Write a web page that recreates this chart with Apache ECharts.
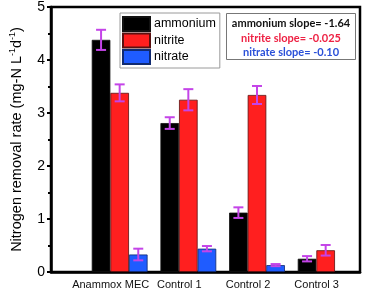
<!DOCTYPE html>
<html><head><meta charset="utf-8">
<script src="https://cdn.jsdelivr.net/npm/echarts@6/dist/echarts.min.js"></script>
<style>html,body{margin:0;padding:0;background:#fff}#c{width:365px;height:291px}</style>
</head><body><div id="c"></div>
<script>
var categories = ['Anammox MEC', 'Control 1', 'Control 2', 'Control 3'];
var seriesNames = ['ammonium', 'nitrite', 'nitrate'];
var ammonium = [4.38, 2.81, 1.12, 0.25];
var ammoniumErr = [0.19, 0.11, 0.10, 0.05];
var nitrite = [3.38, 3.25, 3.34, 0.41];
var nitriteErr = [0.16, 0.20, 0.17, 0.10];
var nitrate = [0.33, 0.44, 0.13, 0];
var nitrateErr = [0.11, 0.05, 0.02, 0];
var yTicks = [0, 1, 2, 3, 4, 5];
var slopeTexts = ['ammonium slope= -1.64', 'nitrite slope= -0.025', 'nitrate slope= -0.10'];

var colors = ['#000000', '#ff1f1f', '#1f5cff'];
var borders = ['#111111', '#5a1010', '#102a70'];
var errColor = '#c444e8';
var BW = 18.6;

// slot axis: positions 0..4.5 in half steps, categories at 1..4
var slots = [];
for (var s = 0; s < 10; s++) slots.push('');
categories.forEach(function (c, i) { slots[2 * (i + 1)] = c; });
function toSlots(arr) {
  var out = slots.map(function () { return null; });
  arr.forEach(function (v, i) { out[2 * (i + 1)] = v > 0 ? v : null; });
  return out;
}
var values = [ammonium, nitrite, nitrate];
var errs = [ammoniumErr, nitriteErr, nitrateErr];

var series = [];
values.forEach(function (vals, k) {
  series.push({
    name: seriesNames[k], type: 'bar', data: toSlots(vals),
    barWidth: BW, barGap: '0%',
    itemStyle: { color: colors[k], borderColor: borders[k], borderWidth: 0.8 },
    silent: true
  });
});
var errData = [];
values.forEach(function (vals, k) {
  vals.forEach(function (v, i) {
    if (errs[k][i] > 0) errData.push([2 * (i + 1), v - errs[k][i], v + errs[k][i], k]);
  });
});
series.push({
  type: 'custom', silent: true, z: 10,
  renderItem: function (params, api) {
    var k = api.value(3);
    var lo = api.coord([api.value(0), api.value(1)]);
    var hi = api.coord([api.value(0), api.value(2)]);
    var x = lo[0] + (k - 1) * BW;
    var cw = 5;
    var st = { stroke: errColor, lineWidth: 2 };
    return { type: 'group', children: [
      { type: 'line', shape: { x1: x, y1: lo[1], x2: x, y2: hi[1] }, style: st },
      { type: 'line', shape: { x1: x - cw, y1: lo[1], x2: x + cw, y2: lo[1] }, style: st },
      { type: 'line', shape: { x1: x - cw, y1: hi[1], x2: x + cw, y2: hi[1] }, style: st }
    ] };
  },
  encode: { x: 0, y: [1, 2] },
  data: errData
});

var chart = echarts.init(document.getElementById('c'));
chart.setOption({
  animation: false,
  grid: { left: 48, right: 5, top: 7, bottom: 19, show: true, borderColor: '#000', borderWidth: 2.5, backgroundColor: 'transparent' },
  legend: {
    orient: 'vertical', left: 120, top: 13,
    data: seriesNames, icon: 'rect', itemWidth: 27, itemHeight: 14, itemGap: 0.5,
    padding: [3, 4, 3, 2], borderColor: '#9a9a9a', borderWidth: 1,
    textStyle: { fontFamily: 'Liberation Sans', fontSize: 12.5, color: '#000', padding: [0, 0, 0, -1] },
    selectedMode: false
  },
  xAxis: {
    type: 'category', data: slots, boundaryGap: false,
    axisLine: { lineStyle: { color: '#000', width: 2.5 } },
    axisTick: { show: false },
    axisLabel: { interval: 0, margin: 7, padding: [0, 18, 0, 0], fontFamily: 'Liberation Sans', fontSize: 11, color: '#111' },
    splitLine: { show: false }
  },
  yAxis: {
    type: 'value', min: yTicks[0], max: yTicks[yTicks.length - 1], interval: 1,
    name: 'Nitrogen removal rate (mg-N L{s|-1}d{s|-1})',
    nameLocation: 'middle', nameGap: 26,
    nameTextStyle: { fontFamily: 'Liberation Sans', fontSize: 14.5, color: '#000',
      rich: { s: { fontFamily: 'Liberation Sans', fontSize: 9, color: '#000', padding: [0, 0, 8, 0] } } },
    axisLine: { show: true, lineStyle: { color: '#000', width: 2.5 } },
    axisTick: { show: true, inside: false, length: 4, lineStyle: { color: '#000', width: 2 } },
    minorTick: { show: true, splitNumber: 2, length: 3, lineStyle: { color: '#000', width: 2 } },
    axisLabel: { margin: 6, fontFamily: 'Liberation Sans', fontSize: 14, color: '#000' },
    splitLine: { show: false }
  },
  graphic: [{
    type: 'group', left: 226, top: 13, children: [
      { type: 'rect', shape: { x: 0, y: 0, width: 129, height: 46 }, style: { fill: '#fff', stroke: '#777', lineWidth: 1 } },
      { type: 'text', x: 64.5, y: 10, style: { text: slopeTexts[0], fill: '#111', font: 'bold 11px Lato', textAlign: 'center', textVerticalAlign: 'middle' } },
      { type: 'text', x: 64.5, y: 24.5, style: { text: slopeTexts[1], fill: '#ee2244', font: 'bold 11px Lato', textAlign: 'center', textVerticalAlign: 'middle' } },
      { type: 'text', x: 64.5, y: 38.5, style: { text: slopeTexts[2], fill: '#2a50d8', font: 'bold 11px Lato', textAlign: 'center', textVerticalAlign: 'middle' } }
    ]
  }],
  series: series
});
</script></body></html>
